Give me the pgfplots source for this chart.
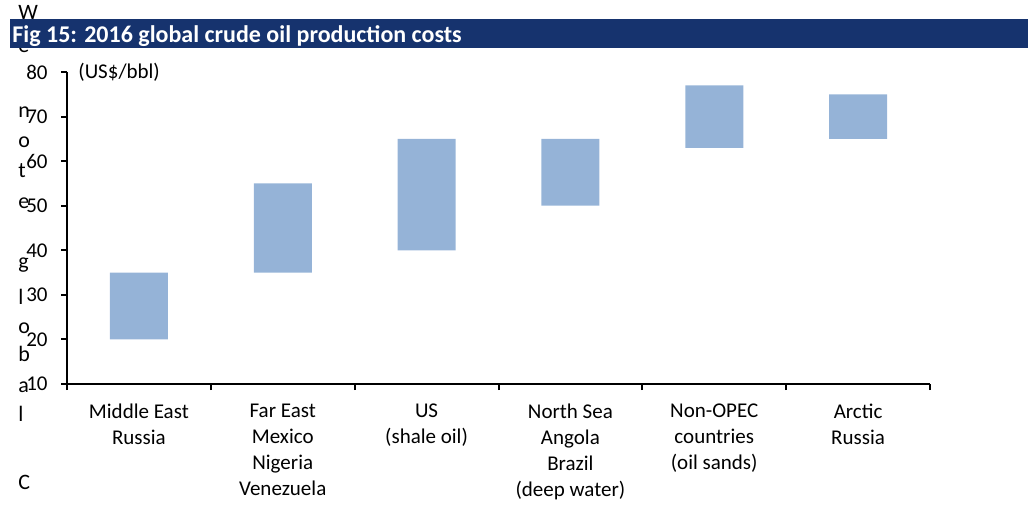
\documentclass[border=0pt]{standalone}
\usepackage{fontspec}
\setmainfont{Carlito}
\usepackage{pgfplots}
\usepackage{pgfplotstable}
\pgfplotsset{compat=1.18}
\definecolor{barblue}{RGB}{149,179,215}
\definecolor{titlenavy}{RGB}{22,51,110}

\pgfplotstableread{
x low high
0 20 35
1 35 55
2 40 65
3 50 65
4 63 77
5 65 75
}\costs

\begin{document}
\begin{tikzpicture}[x=0.5pt,y=0.5pt]
\path[use as bounding box] (0,0) rectangle (1032,504);
% stray wrapped letters down the left edge
\foreach \l/\yy in {W/20,e/53,n/118,o/148,t/178,e/209,g/268,l/304,o/333,b/361,a/392,l/421,C/489}
  \node[anchor=base west, inner sep=0pt, font=\fontsize{11}{13}\selectfont] at (18,{504-\yy}) {\l};
% title bar
\fill[titlenavy] (10,456) rectangle (1028,485);
\node[anchor=base west, inner sep=0pt, text=white, font=\bfseries\fontsize{12}{14}\selectfont]
  at (12,461) {Fig 15: 2016 global crude oil production costs};

\begin{axis}[
  at={(33.5pt,60pt)}, anchor=south west, scale only axis,
  width=431.5pt, height=156pt,
  xmin=-0.5, xmax=5.5, ymin=10, ymax=80,
  axis lines*=left,
  axis line style={line width=1pt},
  every tick/.style={black, line width=1pt},
  tick align=outside, major tick length=3pt,
  ytick={10,20,...,80},
  xtick={-0.5,0.5,...,5.5},
  xticklabels={{Middle East\\Russia},{Far East\\Mexico\\Nigeria\\Venezuela},{US\\(shale oil)},{North Sea\\Angola\\Brazil\\(deep water)},{Non-OPEC\\countries\\(oil sands)},{Arctic\\Russia},{}},
  xticklabel style={align=center, anchor=north, xshift=35.95pt, yshift=-3.5pt, font=\fontsize{10.5}{13}\selectfont},
  yticklabel style={anchor=east, inner sep=0pt, xshift=-6.5pt, font=\fontsize{10.5}{12}\selectfont},
  /pgf/number format/assume math mode=true,
  ybar stacked, bar width=29pt,
  clip=false,
]
\addplot[fill=none, draw=none] table[x=x, y=low] {\costs};
\addplot[fill=barblue, draw=none] table[x=x, y expr=\thisrow{high}-\thisrow{low}] {\costs};
\node[anchor=west, inner sep=0pt, font=\fontsize{10.5}{12}\selectfont] at (axis cs:-0.5,80) [xshift=5.5pt] {(US\$/bbl)};
\end{axis}
\end{tikzpicture}
\end{document}
